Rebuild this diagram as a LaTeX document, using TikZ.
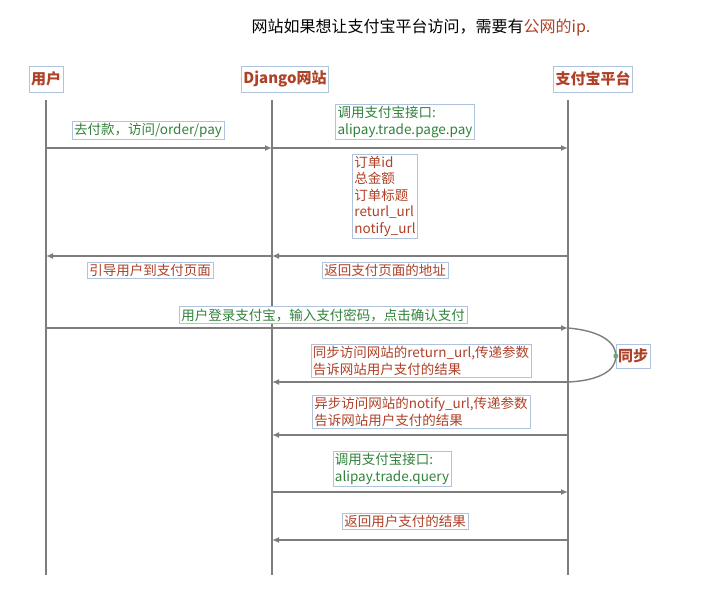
\documentclass[tikz,border=0pt]{standalone}
\usepackage{fontspec}
\setmainfont{Noto Sans CJK SC}
\usetikzlibrary{arrows.meta, positioning}
\definecolor{boxline}{RGB}{175,195,220}
\definecolor{txtgreen}{RGB}{50,130,60}
\definecolor{txtred}{RGB}{175,65,40}
\definecolor{lineg}{RGB}{125,125,125}

\begin{document}
\begin{tikzpicture}[x=1pt, y=-1pt,
    actor/.style={draw=boxline, fill=white, font=\bfseries\fontsize{15}{17}\selectfont, text=txtred, inner sep=2pt, minimum height=26pt},
    note/.style={draw=boxline, fill=white, font=\fontsize{13.5}{16.5}\selectfont, align=left, inner sep=2pt},
    greennote/.style={note, text=txtgreen},
    rednote/.style={note, text=txtred},
    life/.style={lineg, line width=1.4pt},
    msg/.style={-{Latex[length=7pt,width=6pt]}, lineg, line width=1.4pt}
]
\useasboundingbox (0,0) rectangle (706,606);
\node[font=\fontsize{16}{18}\selectfont] (title) at (421,28) {网站如果想让支付宝平台访问，需要有\textcolor{txtred}{公网的ip.}};

\node[actor] (user) at (46,79) {用户};
\node[actor] (site) at (285,79) {Django网站};
\node[actor] (ali) at (593,79) {支付宝平台};

\coordinate (userTop) at (46,100);
\coordinate (userBot) at (46,575);
\coordinate (siteTop) at (272,100);
\coordinate (siteBot) at (272,575);
\coordinate (aliTop) at (568,100);
\coordinate (aliBot) at (568,575);
\draw[life] (userTop) -- (userBot);
\draw[life] (siteTop) -- (siteBot);
\draw[life] (aliTop) -- (aliBot);

% messages
\foreach \y/\n in {148/a, 256/b, 328/c, 382/d, 435/e, 492/f, 540/g} {
  \coordinate (u\n) at (46,\y);
  \coordinate (s\n) at (272,\y);
  \coordinate (p\n) at (568,\y);
}
\draw[msg] (ua) -- (sa);
\draw[msg] (sa) -- (pa);
\draw[msg] (pb) -- (sb);
\draw[msg] (sb) -- (ub);
\draw[msg] (uc) -- (pc);
\draw[msg] (pd) -- (sd);
\draw[msg] (pe) -- (se);
\draw[msg] (sf) -- (pf);
\draw[msg] (pg) -- (sg);

\node[greennote] (pay) at (148,130) {去付款，访问/order/pay};
\node[greennote] (api1) at (405,122) {调用支付宝接口:\\alipay.trade.page.pay};
\node[rednote] (params) at (385,196) {订单id\\总金额\\订单标题\\returl\_url\\notify\_url};
\node[rednote] (guide) at (150,270) {引导用户到支付页面};
\node[rednote] (addr) at (385,270) {返回支付页面的地址};
\node[greennote] (login) at (323,315) {用户登录支付宝，输入支付密码，点击确认支付};
\node[rednote] (sync) at (421,361) {同步访问网站的return\_url,传递参数\\告诉网站用户支付的结果};
\node[rednote] (async) at (421,412) {异步访问网站的notify\_url,传递参数\\告诉网站用户支付的结果};
\node[greennote] (api2) at (392,469) {调用支付宝接口:\\alipay.trade.query};
\node[rednote] (result) at (405,521) {返回用户支付的结果};

\node[actor, minimum height=24pt] (tongbu) at (633,356) {同步};
\draw[lineg, line width=1.4pt] (pc) .. controls (592,330) and (tongbu.west |- 0,338) .. (tongbu.west)
  .. controls (tongbu.west |- 0,374) and (592,381) .. (pd);
\fill[txtgreen!70] (tongbu.west) circle (2.5pt);
\end{tikzpicture}
\end{document}
